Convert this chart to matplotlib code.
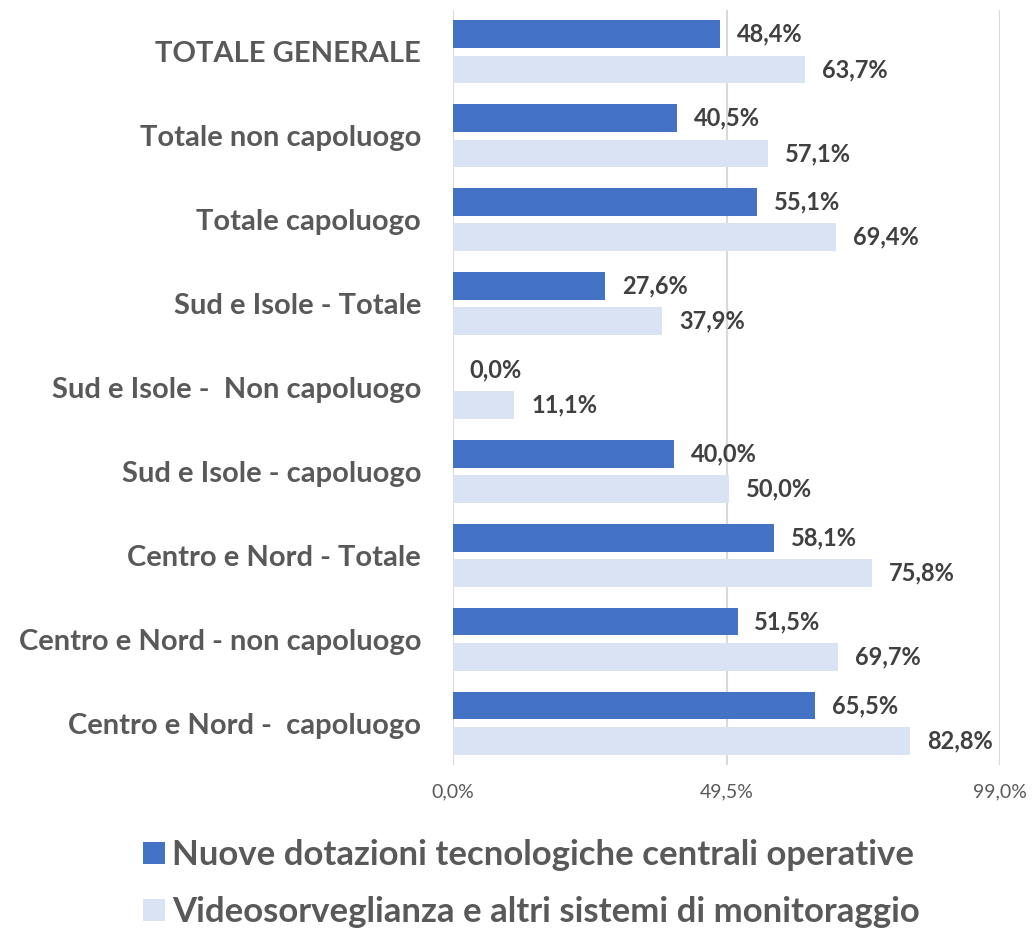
import matplotlib
matplotlib.use("Agg")
import matplotlib.pyplot as plt
from matplotlib.patches import Patch
import numpy as np

plt.rcParams['font.family'] = ['Lato', 'DejaVu Sans']

categories = [
    "TOTALE GENERALE",
    "Totale non capoluogo",
    "Totale capoluogo",
    "Sud e Isole - Totale",
    "Sud e Isole -  Non capoluogo",
    "Sud e Isole - capoluogo",
    "Centro e Nord - Totale",
    "Centro e Nord - non capoluogo",
    "Centro e Nord -  capoluogo",
]
nuove_dotazioni = [48.4, 40.5, 55.1, 27.6, 0.0, 40.0, 58.1, 51.5, 65.5]
videosorveglianza = [63.7, 57.1, 69.4, 37.9, 11.1, 50.0, 75.8, 69.7, 82.8]
series_names = ["Nuove dotazioni tecnologiche centrali operative",
                "Videosorveglianza e altri sistemi di monitoraggio"]
x_ticks = [0.0, 49.5, 99.0]

dark = "#4472C4"
light = "#DAE3F3"
grid_col = "#D9D9D9"
txt = "#595959"
lbl = "#404040"

fig = plt.figure(figsize=(10.33, 9.3), dpi=100)
ax = fig.add_axes([453/1033, 1 - 765/930, 547/1033, 755/930])

y = np.arange(len(categories))
h = 0.33
off = 0.21
b1 = ax.barh(y - off, nuove_dotazioni, height=h, color=dark, zorder=2)
b2 = ax.barh(y + off, videosorveglianza, height=h, color=light, zorder=2)

for bars, vals in ((b1, nuove_dotazioni), (b2, videosorveglianza)):
    for bar, v in zip(bars, vals):
        ax.annotate(f"{v:.1f}%".replace(".", ","),
                    (v, bar.get_y() + bar.get_height() / 2),
                    xytext=(12, 0), textcoords="offset points",
                    ha="left", va="center", fontsize=17, fontweight="bold",
                    color=lbl)

ax.set_xlim(0, 99)
ax.set_ylim(len(categories) - 0.5, -0.5)
ax.set_xticks(x_ticks)
ax.set_xticklabels([f"{t:.1f}%".replace(".", ",") for t in x_ticks],
                   fontsize=14, color=txt)
ax.set_yticks(y)
ax.set_yticklabels(categories, fontsize=21, fontweight="bold", color=txt)
ax.tick_params(axis="x", length=0, pad=13)
ax.tick_params(axis="y", length=0, pad=23)
ax.grid(axis="x", color=grid_col, linewidth=1.5, zorder=0)
for s in ax.spines.values():
    s.set_visible(False)

handles = [Patch(facecolor=dark), Patch(facecolor=light)]
fig.legend(handles, series_names, loc="upper left",
           bbox_to_anchor=(112/1033, 1 - 808/930), frameon=False,
           handlelength=0.63, handleheight=0.63, borderpad=0.4,
           handletextpad=0.2, labelspacing=0.72, labelcolor=txt,
           prop={"weight": "bold", "size": 25})

fig.savefig("out.png", dpi=100)
